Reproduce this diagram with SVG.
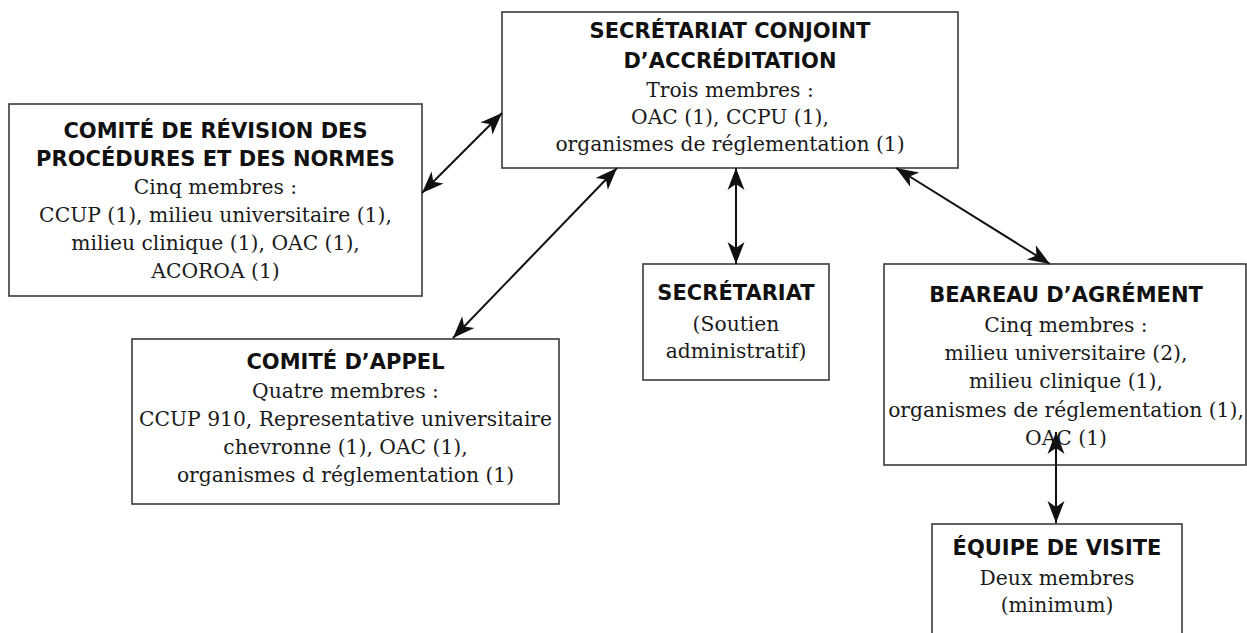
<svg xmlns="http://www.w3.org/2000/svg" width="1247" height="633" viewBox="0 0 1247 633">
<style>
.box{fill:#fff;stroke:#3a3a3a;stroke-width:1.6}
.t{font-family:"DejaVu Sans","Liberation Sans",sans-serif;font-weight:bold;font-size:21px;fill:#111;text-anchor:middle}
.b{font-family:"DejaVu Serif","Liberation Serif",serif;font-size:20.3px;fill:#1a1a1a;text-anchor:middle}
.c{stroke:#111;stroke-width:2;fill:none;marker-start:url(#ah);marker-end:url(#ah)}
</style>
<defs>
<marker id="ah" markerUnits="userSpaceOnUse" markerWidth="26" markerHeight="22" viewBox="-24 -11 26 22" refX="0" refY="0" orient="auto-start-reverse">
<path d="M0,0 L-22,-8.5 L-16,0 L-22,8.5 Z" fill="#111"/>
</marker>
</defs>
<rect width="1247" height="633" fill="#fff"/>
<g id="sca">
<rect class="box" x="502" y="12" width="456" height="156"/>
<text class="t" x="730" y="38">SECRÉTARIAT CONJOINT</text>
<text class="t" x="730" y="68">D’ACCRÉDITATION</text>
<text class="b" x="730" y="97">Trois membres :</text>
<text class="b" x="730" y="124">OAC (1), CCPU (1),</text>
<text class="b" x="730" y="151">organismes de réglementation (1)</text>
</g>
<g id="crpn">
<rect class="box" x="9" y="104" width="413" height="192"/>
<text class="t" x="215.5" y="138">COMITÉ DE RÉVISION DES</text>
<text class="t" x="215.5" y="166">PROCÉDURES ET DES NORMES</text>
<text class="b" x="215.5" y="194">Cinq membres :</text>
<text class="b" x="215.5" y="222">CCUP (1), milieu universitaire (1),</text>
<text class="b" x="215.5" y="250">milieu clinique (1), OAC (1),</text>
<text class="b" x="215.5" y="278">ACOROA (1)</text>
</g>
<g id="appel">
<rect class="box" x="132" y="339" width="427" height="165"/>
<text class="t" x="345.5" y="369">COMITÉ D’APPEL</text>
<text class="b" x="345.5" y="398">Quatre membres :</text>
<text class="b" x="345.5" y="426">CCUP 910, Representative universitaire</text>
<text class="b" x="345.5" y="454">chevronne (1), OAC (1),</text>
<text class="b" x="345.5" y="482">organismes d réglementation (1)</text>
</g>
<g id="secretariat">
<rect class="box" x="643" y="264" width="186" height="116"/>
<text class="t" x="736" y="300">SECRÉTARIAT</text>
<text class="b" x="736" y="331">(Soutien</text>
<text class="b" x="736" y="358">administratif)</text>
</g>
<g id="bureau">
<rect class="box" x="884" y="264" width="362" height="201"/>
<text class="t" x="1066" y="302">BEAREAU D’AGRÉMENT</text>
<text class="b" x="1066" y="332">Cinq membres :</text>
<text class="b" x="1066" y="360">milieu universitaire (2),</text>
<text class="b" x="1066" y="388">milieu clinique (1),</text>
<text class="b" x="1066" y="417">organismes de réglementation (1),</text>
<text class="b" x="1066" y="445">OAC (1)</text>
</g>
<g id="equipe">
<rect class="box" x="932" y="524" width="250" height="120"/>
<text class="t" x="1057" y="555">ÉQUIPE DE VISITE</text>
<text class="b" x="1057" y="585">Deux membres</text>
<text class="b" x="1057" y="612">(minimum)</text>
</g>
<g id="connectors">
<line class="c" x1="422" y1="193" x2="502" y2="113"/>
<line class="c" x1="453" y1="338" x2="617" y2="168"/>
<line class="c" x1="736" y1="168" x2="736" y2="264"/>
<line class="c" x1="896" y1="168" x2="1050" y2="264"/>
<line class="c" x1="1056" y1="432" x2="1056" y2="523"/>
</g>
</svg>
